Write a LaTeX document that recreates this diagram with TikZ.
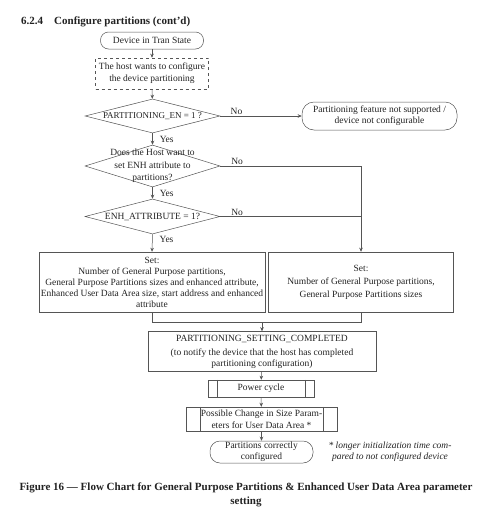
\documentclass[tikz,border=0pt]{standalone}
\usepackage{fontspec}
\setmainfont{Liberation Serif}
\usetikzlibrary{arrows.meta,positioning,calc,shapes.geometric}
\definecolor{fline}{HTML}{555555}
\definecolor{ftext}{HTML}{222222}
\tikzset{
  box/.style={draw=fline,line width=0.5pt,align=center,text=ftext,font=\fontsize{9.5}{11}\selectfont,inner sep=1pt},
  term/.style={box,rounded corners=8pt},
  dbox/.style={box,dashed},
  dec/.style={diamond,draw=fline,line width=0.5pt,inner sep=0pt},
  dtext/.style={align=center,text=ftext,font=\fontsize{9.5}{12.5}\selectfont,inner sep=0pt},
  arr/.style={-{Stealth[length=4pt,width=3.5pt]},line width=0.5pt,draw=fline},
  ln/.style={line width=0.5pt,draw=fline},
  lbl/.style={font=\fontsize{9.5}{11}\selectfont,text=ftext,inner sep=1pt},
}
\begin{document}
\begin{tikzpicture}[x=1pt,y=-1pt]
  \useasboundingbox (0,0) rectangle (497,517);
  % heading
  \node[lbl,anchor=base west,font=\bfseries\fontsize{11}{13}\selectfont] (ttl) at (20,24) {6.2.4\hspace{11pt}Configure partitions (cont'd)};
  % top of the chart
  \node[term,minimum width=103pt,minimum height=17pt] (start) at (152,40.5) {Device in Tran State};
  \node[dbox,minimum width=113pt,minimum height=31pt,font=\fontsize{9.5}{12}\selectfont] (host) at (152,73.5) {The host wants to configure\\the device partitioning};
  \node[dec,minimum width=135pt,minimum height=34pt,label={[dtext,font=\fontsize{9}{11}\selectfont]center:PARTITIONING\_EN = 1 ?}] (d1) at (152.5,116) {};
  \node[term,rounded corners=12pt,minimum width=155pt,minimum height=28pt] (nsup) at (379.5,116) {Partitioning feature not supported /\\device not configurable};
  \node[dec,minimum width=135pt,minimum height=42pt,label={[dtext]center:Does the Host want to\\set ENH attribute to\\partitions?}] (d2) at (152.5,166) {};
  \node[dec,minimum width=135pt,minimum height=35pt,label={[dtext]center:ENH\_ATTRIBUTE = 1?}] (d3) at (152.5,216.5) {};
  % the two settings
  \node[box,minimum width=226pt,minimum height=60pt] (lbox) at (152,282) {Set:\\Number of General Purpose partitions,\\General Purpose Partitions sizes and enhanced attribute,\\Enhanced User Data Area size, start address and enhanced\\attribute};
  \node[box,minimum width=185pt,minimum height=60pt,font=\fontsize{9.5}{13}\selectfont] (rbox) at (361,282) {Set:\\Number of General Purpose partitions,\\General Purpose Partitions sizes};
  % completion
  \node[box,minimum width=228pt,minimum height=40pt] (psc) at (262,351.5) {PARTITIONING\_SETTING\_COMPLETED\\[3pt](to notify the device that the host has completed\\partitioning configuration)};
  \node[box,minimum width=106pt,minimum height=17pt] (pc) at (261,388.5) {Power cycle};
  \node[box,minimum width=151pt,minimum height=24pt,font=\fontsize{9.5}{12}\selectfont] (pcs) at (261.5,419) {Possible Change in Size Param-\\eters for User Data Area *};
  \node[term,rounded corners=10pt,minimum width=103pt,minimum height=22pt] (done) at (261.5,452) {Partitions correctly\\configured};
  \node[lbl,align=center,font=\itshape\fontsize{9.5}{11}\selectfont] (note) at (390,452) {* longer initialization time com-\\pared to not configured device};
  % side bars of the process boxes
  \draw[ln] ([xshift=9pt]pc.north west) -- ([xshift=9pt]pc.south west);
  \draw[ln] ([xshift=-9pt]pc.north east) -- ([xshift=-9pt]pc.south east);
  \draw[ln] ([xshift=14pt]pcs.north west) -- ([xshift=14pt]pcs.south west);
  \draw[ln] ([xshift=-14pt]pcs.north east) -- ([xshift=-14pt]pcs.south east);
  % connectors
  \draw[arr] (start) -- (host);
  \draw[arr] (host) -- (d1);
  \draw[arr] (d1.east) -- node[lbl,pos=0.2,above] {No} (nsup.west);
  \draw[arr] (d1.south) -- node[lbl,right=6pt] {Yes} (d2.north);
  \draw[arr] (d2.east) -| node[lbl,pos=0.06,above] {No} (rbox.north);
  \draw[arr] (d2.south) -- node[lbl,right=6pt] {Yes} (d3.north);
  \draw[ln] (d3.east) -- node[lbl,pos=0.12,above] {No} (d3.east -| rbox.north);
  \draw[arr] (d3.south) -- node[lbl,right=6pt,pos=0.3] {Yes} (lbox.north);
  \coordinate (mrg) at ($(lbox.south)+(0,10)$);
  \draw[ln] (lbox.south) -- (mrg) -| (rbox.south);
  \draw[arr] (mrg -| psc.north) -- (psc.north);
  \draw[arr] (psc) -- (pc);
  \draw[arr] (pc) -- (pcs);
  \draw[arr] (pcs) -- (done);
  % caption
  \node[lbl,align=center,font=\bfseries\fontsize{11}{14}\selectfont] (cap) at (246,495) {Figure 16 --- Flow Chart for General Purpose Partitions \& Enhanced User Data Area parameter\\setting};
\end{tikzpicture}
\end{document}
